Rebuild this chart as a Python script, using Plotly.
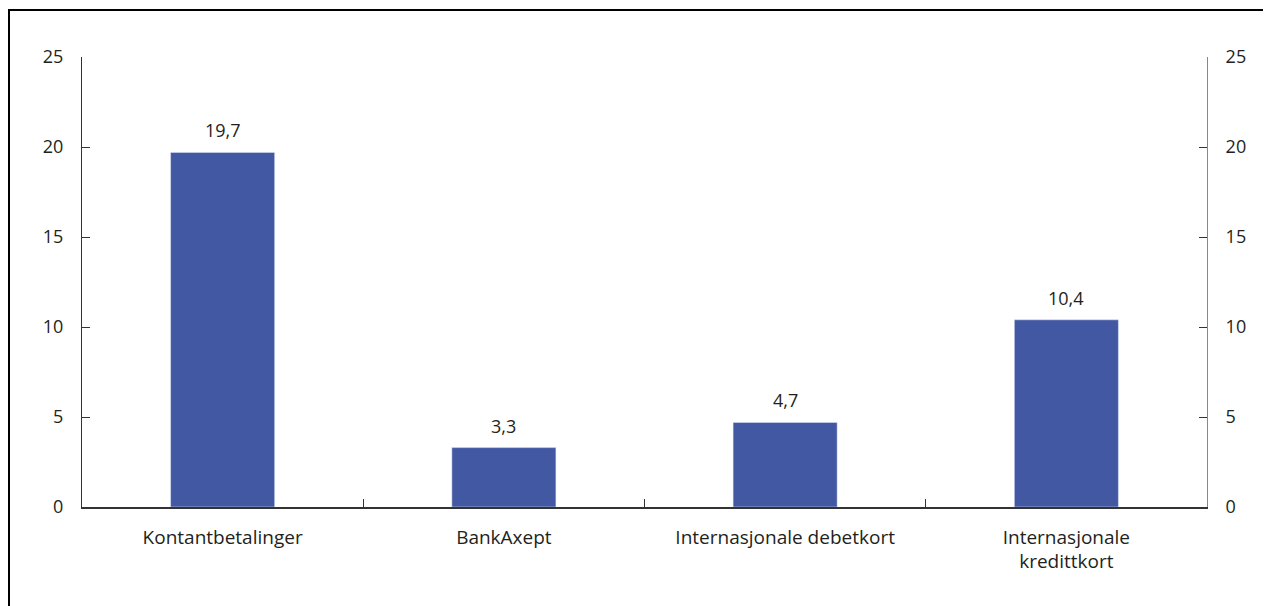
import plotly.graph_objects as go

categories = ["Kontantbetalinger", "BankAxept", "Internasjonale debetkort", "Internasjonale<br>kredittkort"]
values = [19.7, 3.3, 4.7, 10.4]
y_ticks = [0, 5, 10, 15, 20, 25]

bar_color = "#4358A3"
font = dict(family="Open Sans, Noto Sans, sans-serif", size=18, color="#231F20")
xfont = dict(family="Open Sans, Noto Sans, sans-serif", size=19, color="#231F20")

fig = go.Figure()
fig.add_trace(go.Bar(
    x=categories, y=values, marker_color=bar_color, width=0.37,
    showlegend=False, hoverinfo="skip"
))
fig.add_trace(go.Scatter(x=categories, y=values, yaxis="y2", mode="markers",
                         marker=dict(opacity=0), showlegend=False, hoverinfo="skip"))

for c, v in zip(categories, values):
    fig.add_annotation(x=c, y=v, text=f"{v:.1f}".replace(".", ","), showarrow=False,
                       yanchor="bottom", yshift=8, font=font)

axis_common = dict(range=[0, 25], tickvals=y_ticks, ticks="inside", ticklen=8,
                   tickcolor="#333", showgrid=False, zeroline=False, showline=True,
                   linewidth=1, tickfont=font, ticklabelstandoff=14)

W, H = 1263, 598
L, R, T, B = 74, 64, 49, 99
pw, ph = W - L - R, H - T - B

fig.update_layout(
    width=W, height=H,
    margin=dict(l=L, r=R, t=T, b=B),
    plot_bgcolor="white", paper_bgcolor="white",
    separators=", ",
    font=font,
    xaxis=dict(tickson="boundaries", ticks="inside", ticklen=8, tickcolor="#333",
               showline=True, linecolor="#333", linewidth=1.5, showgrid=False,
               tickfont=xfont, ticklabelstandoff=12, fixedrange=True),
    yaxis=dict(**axis_common, linecolor="#333"),
    yaxis2=dict(**axis_common, linecolor="#888", overlaying="y", side="right"),
    shapes=[dict(type="rect", xref="paper", yref="paper",
                 x0=(1 - L) / pw, x1=(W + 20 - L) / pw,
                 y0=-(B + 20) / ph, y1=(ph + T - 2) / ph,
                 line=dict(color="black", width=2))],
)

fig.write_html("out.html")
